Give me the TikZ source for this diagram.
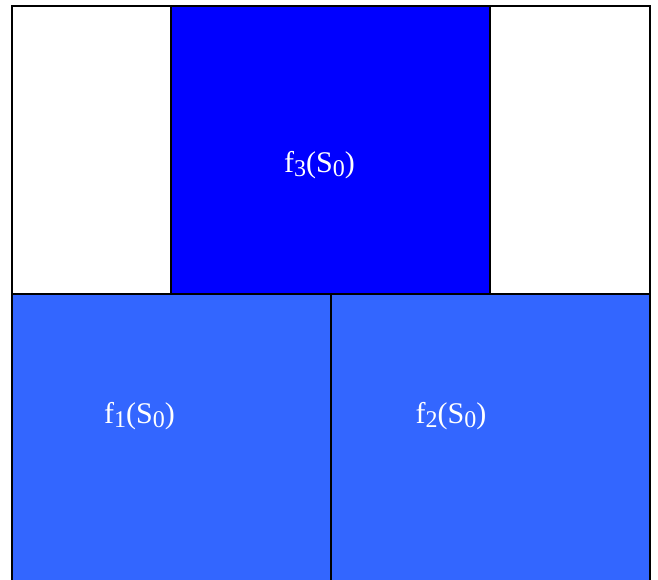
\documentclass[tikz,border=0pt]{standalone}
\usepackage{fontspec}
\setmainfont{Liberation Serif}
\definecolor{topblue}{RGB}{0,0,255}
\definecolor{lowblue}{RGB}{51,102,255}
\newcommand{\mysub}[1]{\raisebox{-4pt}{\fontsize{24}{26}\selectfont #1}}
\begin{document}
\begin{tikzpicture}[x=1pt,y=-1pt,
  frame/.style={draw=black,line width=2pt},
  lbl/.style={text=white,font=\fontsize{30}{34}\selectfont,inner sep=0pt,anchor=base}]
\useasboundingbox (0,0) rectangle (658,580);
\fill[white] (0,0) rectangle (658,580);
% outer frame (bottom edge cut by the picture border)
\draw[frame] (12,600) -- (12,6) -- (650,6) -- (650,600);
% top square
\filldraw[fill=topblue,frame] (171,6) rectangle (490,294);
% bottom squares
\filldraw[fill=lowblue,frame] (12,294) rectangle (331,600);
\filldraw[fill=lowblue,frame] (331,294) rectangle (650,600);
\node[lbl] (f3) at (319.5,173) {f\mysub{3}(S\mysub{0})};
\node[lbl] (f1) at (139.5,423) {f\mysub{1}(S\mysub{0})};
\node[lbl] (f2) at (451,423) {f\mysub{2}(S\mysub{0})};
\end{tikzpicture}
\end{document}
